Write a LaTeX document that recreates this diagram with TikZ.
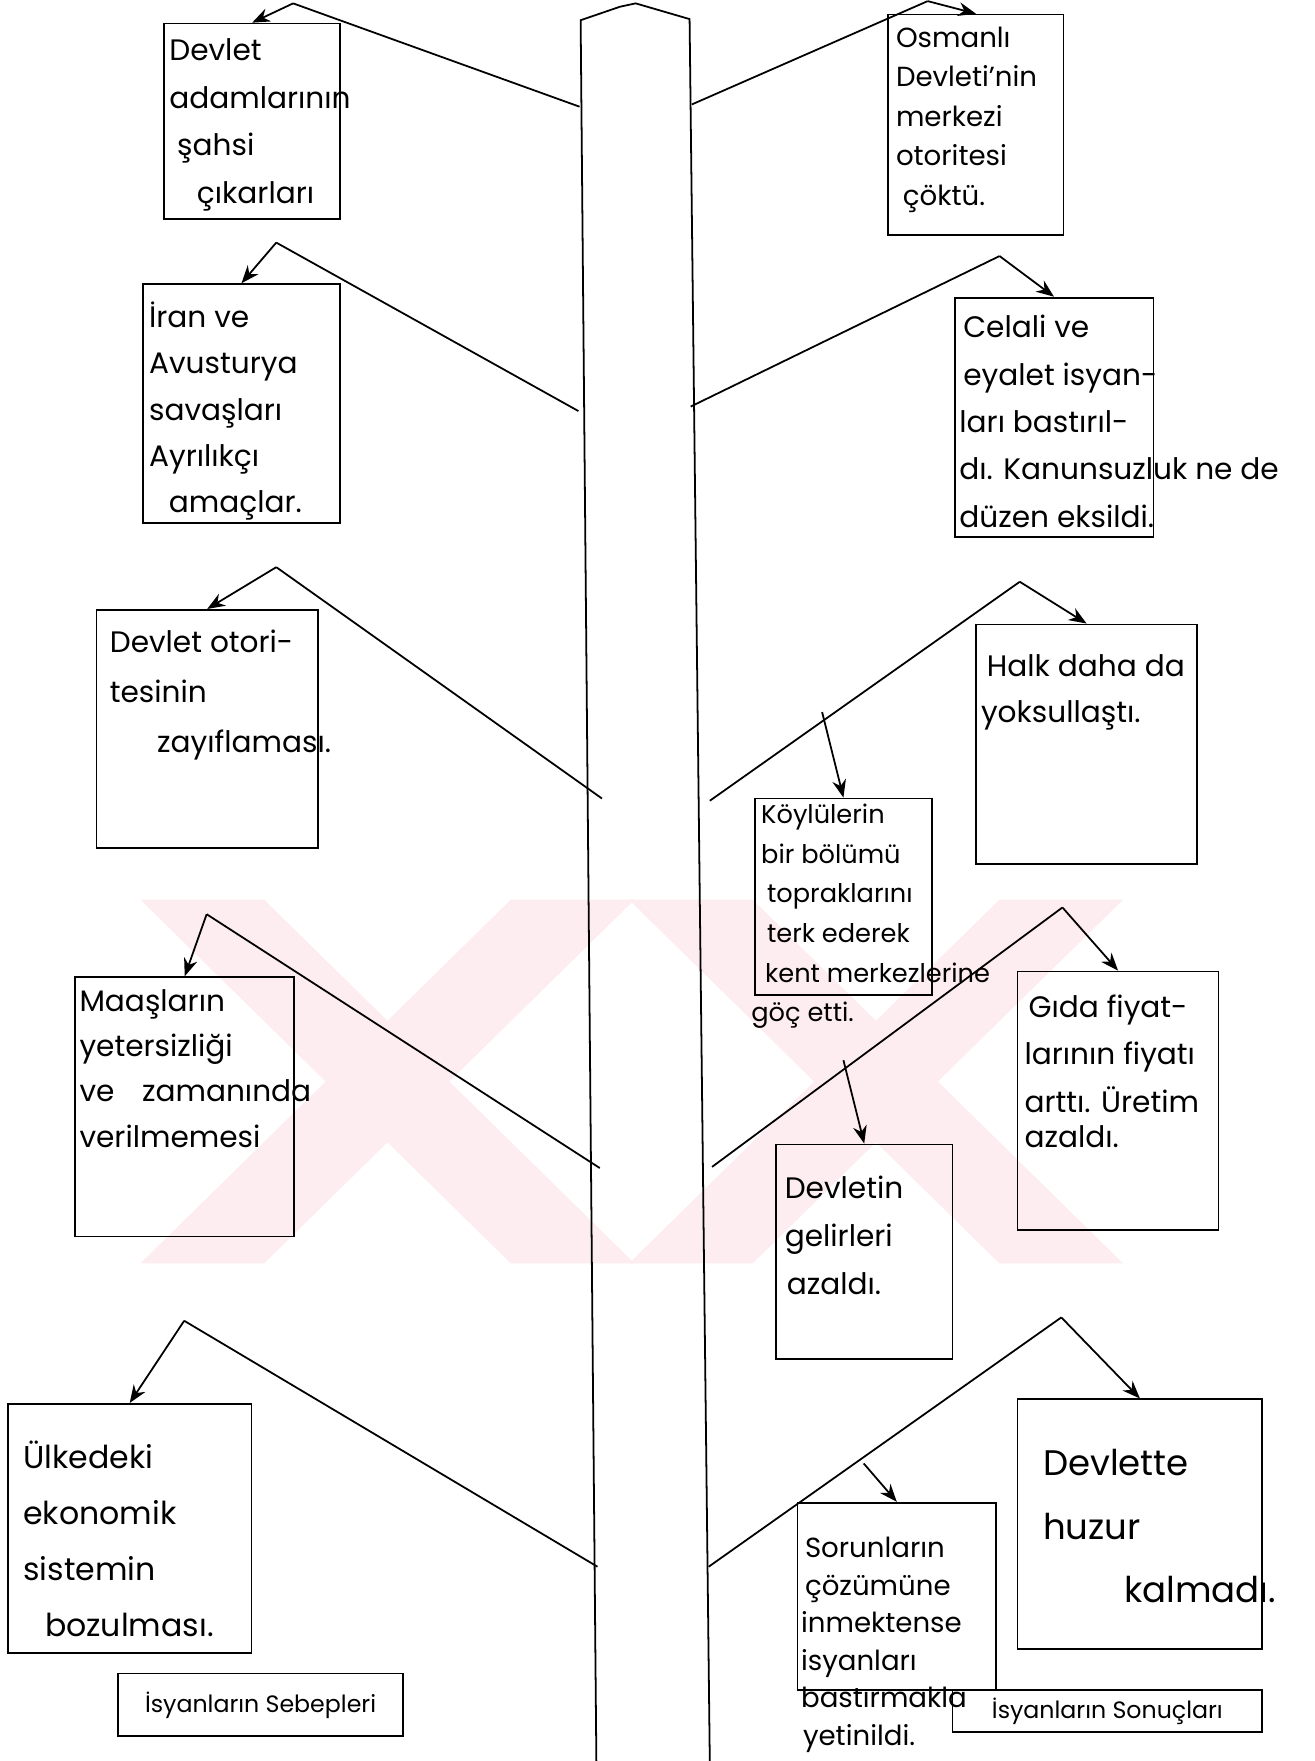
\documentclass[tikz,border=0pt]{standalone}
\usepackage{fontspec}
\setmainfont{Poppins}
\usetikzlibrary{fit,arrows.meta}
\definecolor{wmpink}{RGB}{253,236,240}
\tikzset{
  sheet/.style={draw,inner sep=0pt},
  hand/.style 2 args={font=\fontsize{#1}{#2}\selectfont,align=left,inner sep=0pt,anchor=north west},
  tag/.style={draw,inner sep=0pt,font=\fontsize{12}{14}\selectfont}
}

\begin{document}
\begin{tikzpicture}[x=0.02cm,y=-0.02cm,line width=0.9pt,>={Stealth[length=9pt,width=7pt]}]
  \fill[white] (0,0) rectangle (1170,1568);
  \useasboundingbox (0,0) rectangle (1170,1568);
  \foreach \a in {125,560}
  {
    \fill[wmpink] (\a,801) -- (\a+110,801) -- (\a+440,1125) -- (\a+330,1125) -- cycle;
    \fill[wmpink] (\a+330,801) -- (\a+440,801) -- (\a+110,1125) -- (\a,1125) -- cycle;
  }
  \draw (531,1568) -- (517,18) -- (552,6) -- (566,3) -- (614,17) -- (632,1568);

  % sebepler
  \node[sheet,fit={(146,21) (303,195)}] (l1) {};
  \node[sheet,fit={(127,253) (303,466)}] (l2) {};
  \node[sheet,fit={(86,543) (283,755)}] (l3) {};
  \node[sheet,fit={(67,870) (262,1101)}] (l4) {};
  \node[sheet,fit={(7,1250) (224,1472)}] (l5) {};
  \node[hand={15}{24}] (l1t) at (150,34) {Devlet\\adamlarının\\\hspace*{4pt}şahsi\\\hspace*{14pt}çıkarları};
  \node[hand={15}{23.5}] (l2t) at (132,268) {İran ve\\Avusturya\\savaşları\\Ayrılıkçı\\\hspace*{10pt}amaçlar.};
  \node[hand={15}{25.5}] (l3t) at (97,560) {Devlet otori-\\tesinin\\\hspace*{24pt}zayıflaması.};
  \node[hand={15}{23}] (l4t) at (70,880) {Maaşların\\yetersizliği\\ve\hspace{14pt}zamanında\\verilmemesi};
  \node[hand={16}{28.5}] (l5t) at (20,1282) {Ülkedeki\\ekonomik\\sistemin\\\hspace*{11pt}bozulması.};
  \node[tag,minimum width=5.08cm,minimum height=1.12cm] (sebep) at (232,1518) {İsyanların Sebepleri};

  \coordinate (j1) at (516,95);   \coordinate (a1) at (261,3);
  \coordinate (j2) at (515,366);  \coordinate (a2) at (246,216);
  \coordinate (j3) at (536,711);  \coordinate (a3) at (246,505);
  \coordinate (j4) at (534,1040); \coordinate (a4) at (184,814);
  \coordinate (j5) at (532,1395); \coordinate (a5) at (164,1176);
  \draw (j1) -- (a1); \draw[->] (a1) -- (l1.north);
  \draw (j2) -- (a2); \draw[->] (a2) -- (l2.north);
  \draw (j3) -- (a3); \draw[->] (a3) -- (l3.north);
  \draw (j4) -- (a4); \draw[->] (a4) -- (l4.north);
  \draw (j5) -- (a5); \draw[->] (a5) -- (l5.north);

  % sonuclar
  \node[sheet,fit={(791,13) (947,209)}] (r1) {};
  \node[sheet,fit={(850,265) (1027,478)}] (r2) {};
  \node[sheet,fit={(869,556) (1066,769)}] (r3) {};
  \node[sheet,fit={(672,711) (830,886)}] (r4) {};
  \node[sheet,fit={(906,865) (1085,1095)}] (r5) {};
  \node[sheet,fit={(691,1019) (848,1210)}] (r6) {};
  \node[sheet,fit={(906,1246) (1124,1468)}] (r8) {};
  \node[sheet,fit={(710,1338) (887,1505)}] (r9) {};
  \node[hand={14}{20}] (r1t) at (797,23) {Osmanlı\\Devleti'nin\\merkezi\\otoritesi\\\hspace*{3.5pt}çöktü.};
  \node[hand={15}{24}] (r2t) at (857,280) {Celali ve\\eyalet isyan-\\\hspace*{-2pt}ları bastırıl-\\\hspace*{-2pt}dı. Kanunsuzluk ne de\\\hspace*{-2pt}düzen eksildi.};
  \node[hand={15}{23.3}] (r3t) at (878,582) {Halk daha da\\\hspace*{-3pt}yoksullaştı.};
  \node[hand={13}{20.1}] (r4t) at (677,715) {Köylülerin\\bir bölümü\\\hspace*{3pt}topraklarını\\\hspace*{3pt}terk ederek\\\hspace*{2pt}kent merkezlerine\\\hspace*{-5pt}göç etti.};
  \node[hand={15}{24}] (r5t) at (915,885) {Gıda fiyat-\\\hspace*{-2pt}larının fiyatı\\\hspace*{-2pt}arttı. Üretim\\[-6pt]\hspace*{-2pt}azaldı.};
  \node[hand={15}{24.5}] (r6t) at (698,1046) {Devletin\\gelirleri\\\hspace*{1pt}azaldı.};
  \node[hand={18}{32}] (r8t) at (928,1290) {Devlette\\huzur\\\hspace*{41pt}kalmadı.};
  \node[hand={14}{19}] (r9t) at (716,1368) {Sorunların\\çözümüne\\\hspace*{-2pt}inmektense\\\hspace*{-2pt}isyanları\\\hspace*{-2pt}bastırmakla\\\hspace*{-1pt}yetinildi.};
  \node[tag,minimum width=5.52cm,minimum height=0.74cm] (sonuc) at (986,1523.5) {İsyanların Sonuçları};

  \coordinate (j6) at (616,93);   \coordinate (a6) at (826,1);
  \coordinate (j7) at (615,362);  \coordinate (a7) at (890,228);
  \coordinate (j8) at (632,713);  \coordinate (a8) at (908,518);
  \coordinate (j9) at (634,1039); \coordinate (a9) at (946,808);
  \coordinate (j10) at (631,1395); \coordinate (a10) at (945,1173);
  \coordinate (b1) at (732,634);  \coordinate (b2) at (751,944);
  \coordinate (b3) at (769,1303);
  \draw (j6) -- (a6); \draw[->] (a6) -- (r1.north);
  \draw (j7) -- (a7); \draw[->] (a7) -- (r2.north);
  \draw (j8) -- (a8); \draw[->] (a8) -- (r3.north);
  \draw (j9) -- (a9); \draw[->] (a9) -- (r5.north);
  \draw (j10) -- (a10); \draw[->] (a10) -- (r8.north);
  \draw[->] (b1) -- (r4.north);
  \draw[->] (b2) -- (r6.north);
  \draw[->] (b3) -- (r9.north);
\end{tikzpicture}
\end{document}
